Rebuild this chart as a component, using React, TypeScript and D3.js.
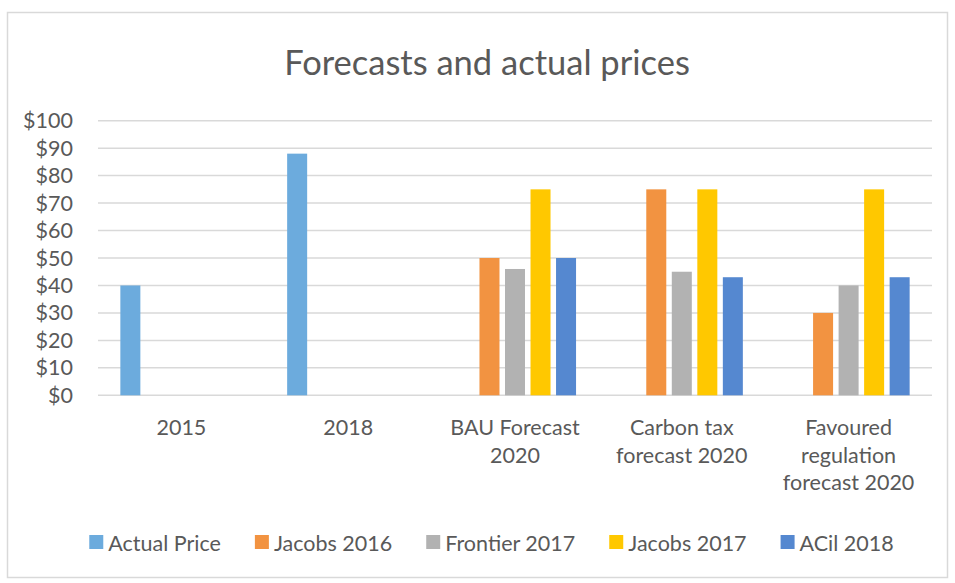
import { useEffect, useRef } from "react";
import * as d3 from "d3";

const categories = ["2015", "2018", "BAU Forecast 2020", "Carbon tax forecast 2020", "Favoured regulation forecast 2020"];
const seriesNames = ["Actual Price", "Jacobs 2016", "Frontier 2017", "Jacobs 2017", "ACil 2018"];
const seriesColors = ["#6CABDD", "#F29341", "#B2B2B2", "#FFC800", "#5588D0"];
// null = no bar in that category
const actualPrice = [40, 88, null, null, null];
const jacobs2016 = [null, null, 50, 75, 30];
const frontier2017 = [null, null, 46, 45, 40];
const jacobs2017 = [null, null, 75, 75, 75];
const acil2018 = [null, null, 50, 43, 43];
const yTicks = [0, 10, 20, 30, 40, 50, 60, 70, 80, 90, 100];

const FONT = "Lato, 'Open Sans', sans-serif";
const TXT = "#595959";
const FS = 21.5;

export default function App() {
  const ref = useRef<SVGSVGElement>(null);
  useEffect(() => {
    if (!ref.current) return;
    const svg = d3.select(ref.current);
    svg.selectAll("*").remove();
    const W = 955, H = 583;
    const m = { left: 98, right: 23, top: 120.7, bottom: 187.7 };

    svg.append("rect")
      .attr("x", 7.5).attr("y", 12.5).attr("width", 940).attr("height", 565)
      .attr("fill", "#fff").attr("stroke", "#D9D9D9").attr("stroke-width", 1.5);

    svg.append("text")
      .attr("x", 487).attr("y", 75)
      .attr("text-anchor", "middle")
      .attr("font-family", FONT).attr("font-size", 34.5).attr("fill", TXT)
      .text("Forecasts and actual prices");

    const x0 = d3.scaleBand().domain(categories).range([m.left, W - m.right]);
    const gw = x0.bandwidth();
    const x1 = d3.scaleBand().domain(seriesNames)
      .range([gw * 0.134, gw * 0.866]).paddingInner(0.216);
    const y = d3.scaleLinear().domain([0, 100]).range([H - m.bottom, m.top]);

    svg.append("g").selectAll("line").data(yTicks).join("line")
      .attr("x1", m.left).attr("x2", W - m.right)
      .attr("y1", (d) => y(d)).attr("y2", (d) => y(d))
      .attr("stroke", "#D9D9D9").attr("stroke-width", 1.5);

    svg.append("g").selectAll("text").data(yTicks).join("text")
      .attr("x", 73).attr("y", (d) => y(d))
      .attr("dy", "0.35em").attr("text-anchor", "end")
      .attr("font-family", FONT).attr("font-size", FS).attr("fill", TXT)
      .text((d) => `$${d}`);

    const seriesValues = [actualPrice, jacobs2016, frontier2017, jacobs2017, acil2018];
    const rows = seriesValues.flatMap((vals, si) =>
      vals.map((v, ci) => ({ v, ci, si })).filter((d) => d.v !== null)
    );
    svg.append("g").selectAll("rect").data(rows).join("rect")
      .attr("x", (d) => x0(categories[d.ci])! + x1(seriesNames[d.si])!)
      .attr("width", x1.bandwidth())
      .attr("y", (d) => y(d.v as number))
      .attr("height", (d) => y(0) - y(d.v as number))
      .attr("fill", (d) => seriesColors[d.si]);

    // category labels, wrapped to group width
    const catG = svg.append("g");
    categories.forEach((c) => {
      const t = catG.append("text")
        .attr("text-anchor", "middle")
        .attr("font-family", FONT).attr("font-size", FS).attr("fill", TXT);
      const words = c.split(" ");
      const lines: string[] = [];
      let cur = "";
      words.forEach((w) => {
        const test = cur ? cur + " " + w : w;
        t.text(test);
        if (cur && (t.node() as SVGTextElement).getComputedTextLength() > gw - 12) {
          lines.push(cur);
          cur = w;
        } else cur = test;
      });
      lines.push(cur);
      t.text(null);
      const cx = x0(c)! + gw / 2;
      lines.forEach((ln, i) => {
        t.append("tspan").attr("x", cx).attr("y", 435 + i * 27.5).text(ln);
      });
    });

    // legend
    const lg = svg.append("g");
    let lx = 0;
    seriesNames.forEach((n, i) => {
      const g = lg.append("g");
      g.append("rect").attr("y", 535).attr("width", 14).attr("height", 14).attr("fill", seriesColors[i]);
      const t = g.append("text").attr("x", 19).attr("y", 551)
        .attr("font-family", FONT).attr("font-size", FS).attr("fill", TXT).text(n);
      const tw = (t.node() as SVGTextElement).getComputedTextLength();
      g.attr("transform", `translate(${lx},0)`);
      lx += 19 + tw + 34;
    });
    const total = lx - 34;
    lg.attr("transform", `translate(${491.5 - total / 2},0)`);
  }, []);
  return (
    <svg ref={ref} width={955} height={583}
      style={{ position: "absolute", left: 0, top: 0, background: "#fff" }} />
  );
}
